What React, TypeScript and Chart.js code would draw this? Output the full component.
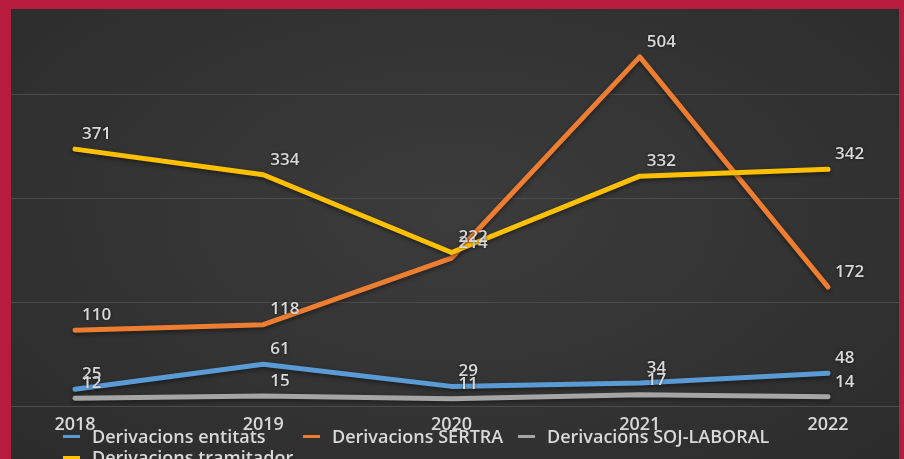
import React, { useEffect, useRef } from "react";
import { Chart, registerables } from "chart.js";

Chart.register(...registerables);

// ---- data ----
const years = [2018, 2019, 2020, 2021, 2022];
const entitats = [25, 61, 29, 34, 48];
const sertra = [110, 118, 214, 504, 172];
const sojLaboral = [12, 15, 11, 17, 14];
const tramitador = [371, 334, 222, 332, 342];
const seriesNames = [
  "Derivacions entitats",
  "Derivacions SERTRA",
  "Derivacions SOJ-LABORAL",
  "Derivacions tramitador",
];
const seriesValues = [entitats, sertra, sojLaboral, tramitador];
const seriesColors = ["#5b9bd5", "#ed7d31", "#a5a5a5", "#ffc000"];
const yTicks = [0, 150, 300, 450];

const TEXT = "#d9d9d9";
const FONT = "'Open Sans', 'DejaVu Sans', sans-serif";

const lineShadow = {
  id: "lineShadow",
  beforeDatasetDraw(chart: any) {
    const c = chart.ctx;
    c.save();
    c.shadowColor = "rgba(0,0,0,0.45)";
    c.shadowBlur = 4;
    c.shadowOffsetY = 2;
  },
  afterDatasetDraw(chart: any) {
    chart.ctx.restore();
  },
};

const valueLabels = {
  id: "valueLabels",
  afterDatasetsDraw(chart: any) {
    const c = chart.ctx;
    c.save();
    c.font = `600 17px ${FONT}`;
    c.fillStyle = TEXT;
    c.textAlign = "left";
    c.textBaseline = "middle";
    c.shadowColor = "rgba(0,0,0,0.6)";
    c.shadowBlur = 3;
    chart.data.datasets.forEach((ds: any, i: number) => {
      const meta = chart.getDatasetMeta(i);
      meta.data.forEach((pt: any, j: number) => {
        c.fillText(String(ds.data[j].y), pt.x + 7, pt.y - 15);
      });
    });
    c.restore();
  },
};

export default function App() {
  const ref = useRef<HTMLCanvasElement | null>(null);

  useEffect(() => {
    if (!ref.current) return;
    const chart = new Chart(ref.current, {
      type: "line",
      data: {
        datasets: seriesNames.map((name, i) => ({
          label: name,
          data: years.map((yr, j) => ({ x: yr, y: seriesValues[i][j] })),
          borderColor: seriesColors[i],
          backgroundColor: seriesColors[i],
          borderWidth: 5,
          borderCapStyle: "round",
          borderJoinStyle: "round",
          pointRadius: 0,
          tension: 0,
          order: seriesNames.length - 1 - i,
        })),
      },
      options: {
        animation: false,
        responsive: true,
        maintainAspectRatio: false,
        layout: { padding: 0 },
        plugins: {
          legend: { display: false },
          tooltip: { enabled: false },
        },
        scales: {
          x: {
            type: "linear",
            min: 2017.66,
            max: 2022.377,
            afterBuildTicks: (s: any) => {
              s.ticks = years.map((v) => ({ value: v }));
            },
            afterFit: (s: any) => {
              s.height = 52.5;
            },
            grid: { display: false },
            border: { display: false },
            ticks: {
              color: TEXT,
              font: { family: FONT, size: 18, weight: "600" },
              padding: 0,
              maxRotation: 0,
              autoSkip: false,
              callback: (v: any) => String(v),
            },
          },
          y: {
            type: "linear",
            min: 0,
            max: 573,
            afterBuildTicks: (s: any) => {
              s.ticks = yTicks.map((v) => ({ value: v }));
            },
            grid: { color: "#4b4b4b", lineWidth: 1, drawTicks: false },
            border: { display: false },
            ticks: { display: false },
          },
        },
      },
      plugins: [lineShadow, valueLabels],
    });
    return () => chart.destroy();
  }, []);

  const itemWidths = [240, 215, 260, 260];

  return (
    <div
      style={{
        position: "fixed",
        inset: 0,
        background: "#b71c3e",
        overflow: "hidden",
      }}
    >
      <div
        style={{
          position: "absolute",
          left: 11,
          top: 9,
          width: 888,
          height: 460,
          overflow: "hidden",
          background:
            "radial-gradient(ellipse at 50% 45%, #3c3c3c 0%, #323232 60%, #2b2b2b 100%)",
        }}
      >
        <div style={{ position: "absolute", left: 0, top: 0, width: 888, height: 450 }}>
          <canvas ref={ref} />
        </div>
        <div
          style={{
            position: "absolute",
            left: 52,
            top: 417,
            width: 740,
            display: "flex",
            flexWrap: "wrap",
            fontFamily: FONT,
            fontWeight: 600,
            fontSize: 18,
            lineHeight: "21px",
            color: TEXT,
          }}
        >
          {seriesNames.map((name, i) => (
            <div
              key={name}
              style={{
                display: "flex",
                alignItems: "center",
                width: itemWidths[i],
                whiteSpace: "nowrap",
              }}
            >
              <span
                style={{
                  display: "inline-block",
                  width: 17,
                  height: 3,
                  background: seriesColors[i],
                  marginRight: 12,
                }}
              />
              <span>{name}</span>
            </div>
          ))}
        </div>
      </div>
    </div>
  );
}
